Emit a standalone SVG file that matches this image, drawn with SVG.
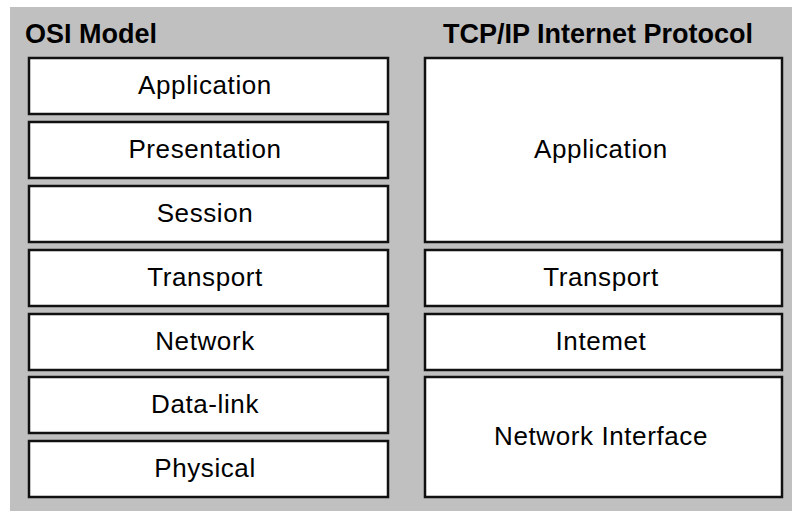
<svg xmlns="http://www.w3.org/2000/svg" width="792" height="511" viewBox="0 0 792 511">
<style>
.bg{fill:#c0c0c0}
.box{fill:#ffffff;stroke:#111111;stroke-width:2.5}
.title{font-family:"Liberation Sans",Arial,sans-serif;font-weight:bold;font-size:27px;fill:#000}
.lbl{font-family:"Liberation Sans",Arial,sans-serif;font-size:26px;fill:#000;text-anchor:middle;letter-spacing:0.6px}
</style>
<rect x="0" y="0" width="792" height="511" fill="#ffffff"/>
<rect class="bg" x="10" y="7" width="782" height="504"/>
<text class="title" x="25" y="43">OSI Model</text>
<text class="title" x="443" y="43">TCP/IP Internet Protocol</text>
<g id="osi-application"><rect class="box" x="29" y="58" width="359" height="56"/><text class="lbl" x="205" y="94">Application</text></g>
<g id="osi-presentation"><rect class="box" x="29" y="122" width="359" height="56"/><text class="lbl" x="205" y="158">Presentation</text></g>
<g id="osi-session"><rect class="box" x="29" y="186" width="359" height="56"/><text class="lbl" x="205" y="222">Session</text></g>
<g id="osi-transport"><rect class="box" x="29" y="250" width="359" height="56"/><text class="lbl" x="205" y="286">Transport</text></g>
<g id="osi-network"><rect class="box" x="29" y="314" width="359" height="56"/><text class="lbl" x="205" y="350">Network</text></g>
<g id="osi-datalink"><rect class="box" x="29" y="377" width="359" height="56"/><text class="lbl" x="205" y="413">Data-link</text></g>
<g id="osi-physical"><rect class="box" x="29" y="441" width="359" height="56"/><text class="lbl" x="205" y="477">Physical</text></g>
<g id="tcp-application"><rect class="box" x="425" y="58" width="357" height="184"/><text class="lbl" x="601" y="158">Application</text></g>
<g id="tcp-transport"><rect class="box" x="425" y="250" width="357" height="56"/><text class="lbl" x="601" y="286">Transport</text></g>
<g id="tcp-internet"><rect class="box" x="425" y="314" width="357" height="56"/><text class="lbl" x="601" y="350">Intemet</text></g>
<g id="tcp-network-interface"><rect class="box" x="425" y="377" width="357" height="120"/><text class="lbl" x="601" y="445">Network Interface</text></g>
<g id="connectors"></g>
</svg>
